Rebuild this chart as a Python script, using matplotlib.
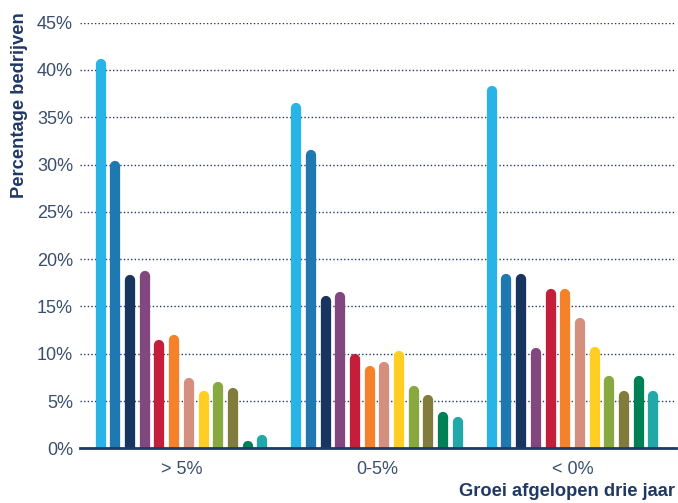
import matplotlib.pyplot as plt
import numpy as np

plt.rcParams['font.family'] = ['Liberation Sans', 'DejaVu Sans']

groepen = ['> 5%', '0-5%', '< 0%']
kleuren = ['#29b4e8', '#1f78af', '#183560', '#83477f', '#c41e3a', '#f5822a',
           '#d58f7e', '#ffce22', '#87a940', '#827c3c', '#008055', '#21a8a9']

# percentage bedrijven per groep (12 reeksen)
groei_hoog = [41.2, 30.4, 18.3, 18.7, 11.4, 12.0, 7.4, 6.1, 7.0, 6.4, 0.8, 1.4]
groei_mid = [36.5, 31.5, 16.1, 16.5, 10.0, 8.7, 9.1, 10.3, 6.6, 5.6, 3.8, 3.3]
groei_laag = [38.3, 18.4, 18.4, 10.6, 16.8, 16.8, 13.8, 10.7, 7.6, 6.1, 7.6, 6.1]
waarden = [groei_hoog, groei_mid, groei_laag]

yticks = np.arange(0, 50, 5)
navy = '#1f3864'
tekst = '#3a4e6e'

fig = plt.figure(figsize=(6.78, 5.03), dpi=100)
ax = fig.add_axes([80/678, 1 - 448.3/503, 596/678, (448.3 - 22.7)/503])

ax.set_ylim(0, 45)
ax.set_xlim(-0.519, 2.529)

px = 195.5  # pixels per categorie
stap = 14.7 / px
r = 5 / ((448.3 - 22.7) / 45)  # straal van de ronde kop in %

for gi, reeks in enumerate(waarden):
    start = gi - 5.5 * stap
    for bi, v in enumerate(reeks):
        x = start + bi * stap
        ax.plot([x, x], [0, v - r], color=kleuren[bi], lw=7.4,
                solid_capstyle='round', zorder=3)

for t in yticks[1:]:
    ax.axhline(t, color=navy, lw=1.0, ls=(0, (1, 1.6)), zorder=1)

ax.set_yticks(yticks)
ax.set_yticklabels([f'{t}%' for t in yticks], fontsize=13, color=tekst)
ax.set_xticks(range(3))
ax.set_xticklabels(groepen, fontsize=13, color=tekst)
ax.tick_params(axis='both', length=0)
ax.tick_params(axis='y', pad=5)
ax.tick_params(axis='x', pad=9)

for s in ['top', 'right', 'left']:
    ax.spines[s].set_visible(False)
ax.spines['bottom'].set_color(navy)
ax.spines['bottom'].set_linewidth(2)
ax.spines['bottom'].set_zorder(4)

fig.text(20/678, 1 - 105/503, 'Percentage bedrijven', rotation=90, ha='center',
         va='center', fontsize=13.2, fontweight='bold', color=navy)
fig.text(675/678, 1 - 491/503, 'Groei afgelopen drie jaar', ha='right',
         va='center', fontsize=13.2, fontweight='bold', color=navy)

fig.savefig('out.png', dpi=100)
